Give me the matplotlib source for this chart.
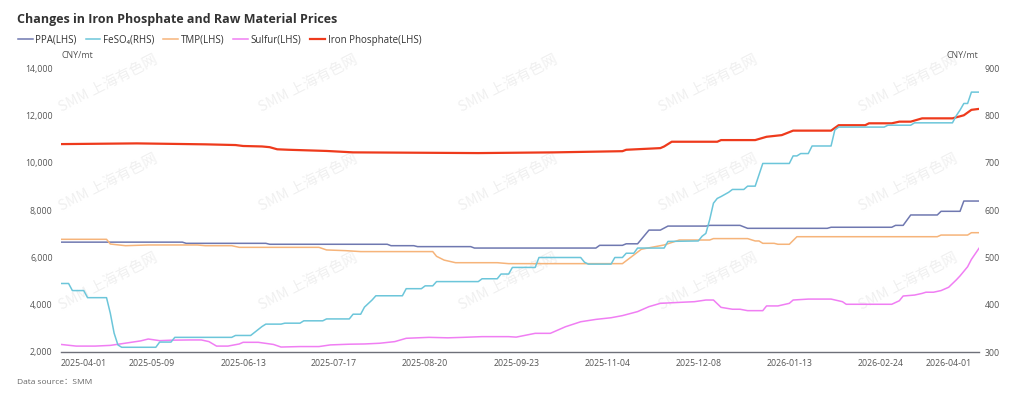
import matplotlib.pyplot as plt
from matplotlib.ticker import FuncFormatter
import matplotlib.transforms as mtransforms

plt.rcParams['font.family'] = ['Open Sans', 'DejaVu Sans', 'Noto Sans CJK SC']

# category labels (every 24th trading day), 243 points in total
n_points = 243
tick_pos = [0, 24, 48, 72, 96, 120, 144, 168, 192, 216, 240]
tick_labels = ['2025-04-01', '2025-05-09', '2025-06-13', '2025-07-17', '2025-08-20',
               '2025-09-23', '2025-11-04', '2025-12-08', '2026-01-13', '2026-02-24',
               '2026-04-01']

# series: point index + value
ppa_x = [0, 32, 33, 54, 55, 86, 87, 93, 94, 108, 109, 141, 142, 148, 149, 152, 155, 158,
         160, 170, 171, 179, 181, 202, 203, 219, 220, 222, 224, 231, 232, 237, 238, 242]
ppa_y = [6650, 6650, 6600, 6600, 6560, 6560, 6500, 6500, 6460, 6460, 6400, 6400, 6515, 6515,
         6580, 6580, 7160, 7160, 7330, 7330, 7360, 7360, 7235, 7235, 7280, 7280, 7360, 7360,
         7800, 7800, 7955, 7955, 8390, 8390]

feso4_x = [0, 2, 3, 6, 7, 12, 13, 14, 15, 16, 25, 26, 29, 30, 45, 46, 50, 53, 54, 58, 59, 63,
           64, 69, 70, 76, 77, 79, 80, 82, 83, 90, 91, 95, 96, 98, 99, 110, 111, 115, 116, 118,
           119, 125, 126, 137, 138, 139, 145, 146, 148, 149, 151, 152, 159, 160, 168, 169, 170,
           171, 172, 173, 174, 176, 177, 180, 181, 183, 185, 192, 193, 194, 195, 197, 198, 203,
           204, 205, 217, 218, 224, 225, 235, 236, 237, 238, 239, 240, 242]
feso4_y = [445, 445, 430, 430, 415, 415, 382, 340, 315, 310, 310, 321, 321, 331, 331, 335, 335,
           354, 359, 359, 361, 361, 366, 366, 370, 370, 380, 380, 395, 410, 419, 419, 434, 434,
           440, 440, 449, 449, 455, 455, 465, 465, 479, 479, 500, 500, 490, 486, 486, 500, 500,
           509, 509, 520, 520, 534, 535, 545, 551, 580, 615, 625, 629, 638, 644, 644, 651, 651,
           699, 699, 715, 715, 720, 720, 736, 736, 770, 776, 776, 780, 780, 785, 785, 800, 812,
           826, 826, 850, 850]

tmp_x = [0, 12, 13, 17, 23, 36, 38, 45, 47, 68, 70, 75, 79, 98, 99, 101, 104, 115, 118, 148,
         153, 159, 163, 171, 172, 181, 183, 184, 185, 188, 189, 192, 194, 231, 232, 239, 240, 242]
tmp_y = [6770, 6770, 6570, 6500, 6530, 6530, 6500, 6500, 6430, 6430, 6320, 6290, 6250, 6250,
         6050, 5890, 5780, 5780, 5740, 5740, 6350, 6530, 6740, 6740, 6800, 6800, 6700, 6700,
         6600, 6600, 6560, 6560, 6880, 6880, 6950, 6950, 7050, 7050]

sulfur_x = [0, 4, 9, 13, 16, 21, 23, 26, 29, 34, 37, 39, 41, 44, 47, 48, 52, 56, 58, 63, 68,
            71, 76, 80, 84, 88, 91, 97, 102, 106, 111, 118, 120, 125, 129, 133, 137, 141, 145,
            148, 152, 155, 158, 163, 167, 170, 172, 174, 177, 179, 181, 185, 186, 189, 192, 193,
            197, 203, 206, 207, 219, 221, 222, 225, 227, 228, 230, 232, 234, 236, 237, 239, 240,
            242]
sulfur_y = [2320, 2250, 2250, 2280, 2350, 2470, 2550, 2480, 2500, 2510, 2510, 2440, 2250, 2250,
            2340, 2410, 2410, 2320, 2210, 2230, 2230, 2300, 2330, 2340, 2370, 2440, 2580, 2620,
            2600, 2620, 2650, 2650, 2630, 2790, 2790, 3070, 3280, 3380, 3450, 3540, 3710, 3920,
            4060, 4100, 4130, 4200, 4200, 3890, 3810, 3810, 3750, 3750, 3950, 3950, 4060, 4200,
            4240, 4240, 4130, 4020, 4020, 4170, 4370, 4410, 4480, 4530, 4530, 4600, 4740, 5050,
            5220, 5610, 5920, 6390]

iron_x = [0, 20, 38, 46, 48, 53, 55, 57, 60, 70, 77, 110, 130, 148, 149, 158, 159, 161, 173,
          174, 183, 186, 190, 193, 203, 205, 212, 213, 219, 221, 224, 227, 235, 238, 240, 242]
iron_y = [10800, 10830, 10790, 10760, 10720, 10700, 10670, 10580, 10560, 10510, 10450, 10420,
          10450, 10500, 10560, 10630, 10700, 10900, 10900, 10970, 10970, 11110, 11180, 11370,
          11370, 11600, 11600, 11680, 11680, 11750, 11750, 11890, 11890, 12020, 12250, 12290]

c_ppa = '#6f78b0'
c_feso4 = '#6cc6da'
c_tmp = '#f6b47a'
c_sulfur = '#f07ef3'
c_iron = '#ee3a1c'
c_axis = '#6e7079'
c_text = '#555555'

fig = plt.figure(figsize=(10.24, 3.99), dpi=100)
ax = fig.add_axes([61 / 1024, 1 - 352 / 399, (979 - 61) / 1024, (352 - 68.5) / 399])
ax2 = ax.twinx()
ax.set_facecolor('none')
ax2.set_facecolor('none')

# watermark
for wy in [84, 183, 282]:
    for wx in [108, 308, 508, 708, 908]:
        fig.text(wx / 1024, 1 - wy / 399, 'SMM 上海有色网', rotation=27, ha='center', va='center',
                 fontsize=10.5, color='#f0f0f0', family=['Noto Sans CJK SC'], zorder=-5)

l1, = ax.plot(ppa_x, ppa_y, color=c_ppa, lw=1.1, label='PPA(LHS)')
l2, = ax2.plot(feso4_x, feso4_y, color=c_feso4, lw=1.1, label='FeSO₄(RHS)')
l3, = ax.plot(tmp_x, tmp_y, color=c_tmp, lw=1.1, label='TMP(LHS)')
l4, = ax.plot(sulfur_x, sulfur_y, color=c_sulfur, lw=1.1, label='Sulfur(LHS)')
l5, = ax.plot(iron_x, iron_y, color=c_iron, lw=1.6, label='Iron Phosphate(LHS)')

ax.set_xlim(0, n_points - 1)
ax.set_ylim(2000, 14000)
ax2.set_ylim(300, 900)
ax.set_yticks(range(2000, 14001, 2000))
ax2.set_yticks(range(300, 901, 100))
ax.yaxis.set_major_formatter(FuncFormatter(lambda v, p: f'{int(v):,}'))

ax.set_xticks(tick_pos)
ax.set_xticklabels(tick_labels)
xl = ax.get_xticklabels()
xl[0].set_ha('left')
xl[-1].set_ha('right')
xl[-1].set_transform(xl[-1].get_transform() + mtransforms.ScaledTranslation(7 / 100, 0, fig.dpi_scale_trans))

for a in (ax, ax2):
    for s in ['top', 'left', 'right']:
        a.spines[s].set_visible(False)
    a.spines['bottom'].set_color(c_axis)
    a.spines['bottom'].set_linewidth(1.0)
    a.tick_params(length=0, labelsize=6.3, labelcolor=c_text)
ax.tick_params(axis='x', pad=5)
ax.tick_params(axis='y', pad=6)
ax2.tick_params(axis='y', pad=4)
ax2.spines['bottom'].set_visible(False)

fig.text(61 / 1024, 1 - 55 / 399, 'CNY/mt', fontsize=6.3, color=c_text, ha='left', va='center')
fig.text(978 / 1024, 1 - 55 / 399, 'CNY/mt', fontsize=6.3, color=c_text, ha='right', va='center')

fig.text(17 / 1024, 1 - 19 / 399, 'Changes in Iron Phosphate and Raw Material Prices',
         fontsize=9, fontweight='bold', color='#333333', ha='left', va='center')
fig.legend(handles=[l1, l2, l3, l4, l5], loc='center left', bbox_to_anchor=(18 / 1024, 1 - 40 / 399),
           ncol=5, frameon=False, fontsize=7, handlelength=1.5, handletextpad=0.3,
           columnspacing=0.9, borderpad=0, borderaxespad=0, labelcolor='#333333')
fig.text(17 / 1024, 1 - 382 / 399, 'Data source：SMM', fontsize=6, color='#666666',
         ha='left', va='center')

fig.savefig('out.png', dpi=100)
